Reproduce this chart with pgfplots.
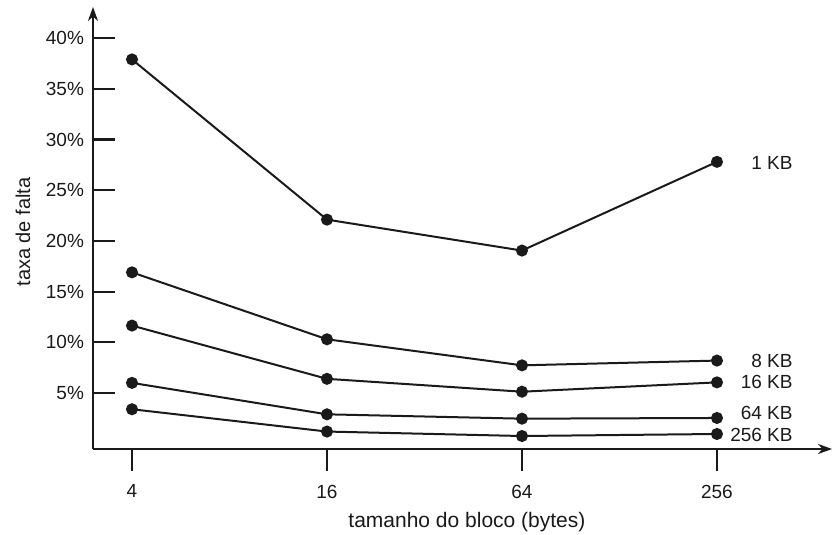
\documentclass[border=0pt]{standalone}
\usepackage{pgfplots}
\pgfplotsset{compat=1.18}
\usetikzlibrary{arrows.meta}
\usepackage{fontspec}
\setmainfont{Liberation Sans}
\definecolor{ink}{HTML}{1A1A1A}
\pgfplotsset{myline/.style={ink, line width=1pt, mark=*, mark size=2.5pt, mark options={solid, fill=ink, draw=ink}}}
\begin{document}
\begin{tikzpicture}
\useasboundingbox (-46.5pt,-43pt) rectangle (369.5pt,224.5pt);
\begin{axis}[
  at={(0,0)}, anchor=south west,
  scale only axis, width=369.5pt, height=221pt,
  axis x line=bottom, axis y line=left,
  axis line style={line width=1.2pt, ink, -{Stealth[length=7pt,width=5pt]}},
  xmin=-0.2, xmax=3.59, ymin=-0.52, ymax=43.07,
  xtick={0,1,2,3}, xticklabels={4,16,64,256},
  ytick={5,10,15,20,25,30,35,40},
  yticklabels={5\%,10\%,15\%,20\%,25\%,30\%,35\%,40\%},
  tick align=inside,
  major tick length=11pt,
  tick style={line width=1.1pt, ink},
  every major x tick/.append style={yshift=-11pt},
  xticklabel style={yshift=-14.4pt},
  yticklabel style={xshift=-1pt},
  tick label style={font=\fontsize{9.5}{11}\selectfont, text=ink},
  /pgf/number format/assume math mode=true,
  xlabel={tamanho do bloco (bytes)},
  ylabel={taxa de falta},
  every axis x label/.style={at={(rel axis cs:0.506,0)}, yshift=-36.5pt, anchor=center, font=\fontsize{10.5}{12}\selectfont, text=ink},
  every axis y label/.style={at={(rel axis cs:0,0.491)}, xshift=-35pt, rotate=90, anchor=center, font=\fontsize{10}{12}\selectfont, text=ink},
  clip=false,
]
% 1 KB
\addplot[myline] coordinates {(0,37.9) (1,22.1) (2,19.05) (3,27.8)};
% 8 KB
\addplot[myline] coordinates {(0,16.9) (1,10.3) (2,7.73) (3,8.2)};
% 16 KB
\addplot[myline] coordinates {(0,11.65) (1,6.4) (2,5.13) (3,6.05)};
% 64 KB
\addplot[myline] coordinates {(0,6.0) (1,2.9) (2,2.47) (3,2.54)};
% 256 KB
\addplot[myline] coordinates {(0,3.4) (1,1.2) (2,0.76) (3,0.96)};
\begin{scope}[every node/.style={anchor=east, font=\fontsize{9.5}{11}\selectfont, text=ink, inner sep=0pt}]
\node at (axis cs:3.39,27.65) {1 KB};
\node at (axis cs:3.39,8.2) {8 KB};
\node at (axis cs:3.39,6.05) {16 KB};
\node at (axis cs:3.39,3.06) {64 KB};
\node at (axis cs:3.39,0.89) {256 KB};
\end{scope}
\end{axis}
\end{tikzpicture}
\end{document}
